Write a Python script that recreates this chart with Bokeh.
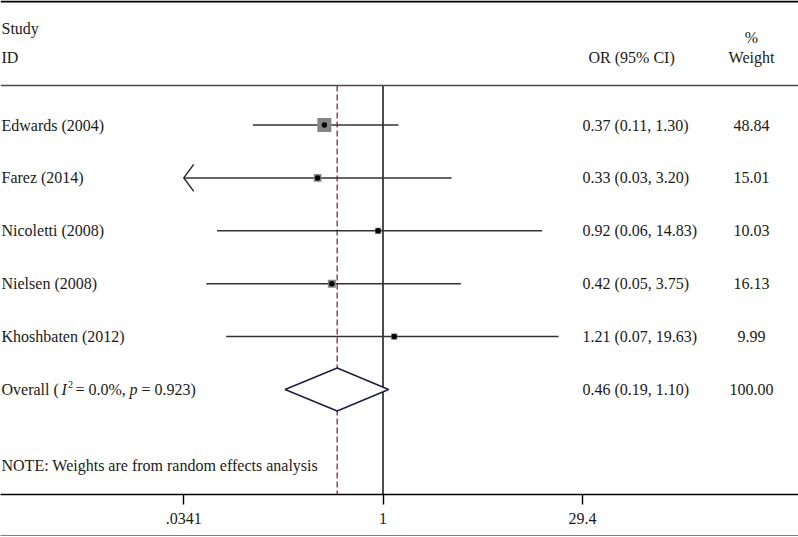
import math
from bokeh.plotting import figure
from bokeh.models import Range1d, LogAxis, FixedTicker, Span
from bokeh.core.properties import value
from bokeh.embed import file_html
from bokeh.resources import INLINE

# ---------------- data ----------------
studies = ["Edwards (2004)", "Farez (2014)", "Nicoletti (2008)", "Nielsen (2008)", "Khoshbaten (2012)"]
or_est = [0.37, 0.33, 0.92, 0.42, 1.21]
ci_low = [0.11, 0.03, 0.06, 0.05, 0.07]
ci_high = [1.30, 3.20, 14.83, 3.75, 19.63]
weights = [48.84, 15.01, 10.03, 16.13, 9.99]
overall_or = 0.46
overall_low = 0.19
overall_high = 1.10
overall_weight = 100.00
i2_text = "0.0%"
p_text = "0.923"
tick_values = [0.0341, 1, 29.4]
tick_labels = [".0341", "1", "29.4"]
null_value = 1
note = "NOTE: Weights are from random effects analysis"

# ---------------- geometry helpers ----------------
X1 = 382.5      # reference pixel of OR = 1
DEC = 135.8     # pixels per decade
ROW0 = 124.5    # reference pixel of first row
ROWH = 52.9     # row spacing in pixels
FW, FH = 798, 494


def xv(ref_x):
    return 10 ** ((ref_x - X1) / DEC)


def yv(ref_y):
    return (ref_y - ROW0) / ROWH


FONT = value("Liberation Serif")
FS = "16px"
INK = "#1a1a1a"

p = figure(frame_width=FW, frame_height=FH, x_axis_type="log",
           x_axis_location=None, y_axis_location=None,
           x_range=Range1d(xv(0), xv(FW)),
           y_range=Range1d(yv(FH), yv(0)),
           toolbar_location=None, output_backend="svg",
           min_border=0, outline_line_color=None,
           background_fill_color="white", border_fill_color="white")
p.xgrid.visible = False
p.ygrid.visible = False

rows = list(range(len(studies)))
overall_row = len(studies)
axis_min = min(tick_values)

# horizontal rules
p.add_layout(Span(location=yv(1), dimension="width", line_color="black", line_width=2))
p.add_layout(Span(location=yv(85), dimension="width", line_color="#4a4a4a", line_width=1.6))

y_top = yv(85)
y_bot = yv(FH)
# null line and overall line
p.segment(x0=[null_value], y0=[y_top], x1=[null_value], y1=[y_bot], line_color="black", line_width=1.4)
p.segment(x0=[overall_or], y0=[y_top], x1=[overall_or], y1=[y_bot], line_color="#8a4b4b",
          line_width=1.5, line_dash="6 3")

# CI lines (clipped at axis minimum)
lo_clip = [max(l, axis_min) for l in ci_low]
p.segment(x0=lo_clip, y0=rows, x1=ci_high, y1=rows, line_color="#333333", line_width=1.5)

# arrow heads for clipped CIs
arm_dx = 10 ** (10 / DEC)
arm_dy = 13.5 / ROWH
xs, ys = [], []
for l, r in zip(ci_low, rows):
    if l < axis_min:
        xs.append([axis_min * arm_dx, axis_min, axis_min * arm_dx])
        ys.append([r - arm_dy, r, r + arm_dy])
if xs:
    p.multi_line(xs=xs, ys=ys, line_color="#222222", line_width=1.4)

# weight squares and point estimates
p.scatter(x=or_est, y=rows, size=[2.0 * math.sqrt(w) for w in weights], marker="square",
          fill_color="#858585", line_color=None)
p.scatter(x=or_est, y=rows, size=5.5, marker="circle", fill_color="black", line_color=None)

# overall diamond
dh = 21.5 / ROWH
p.patch(x=[overall_low, overall_or, overall_high, overall_or],
        y=[overall_row, overall_row - dh, overall_row, overall_row + dh],
        fill_color="white", line_color="#1d1d45", line_width=1.5)

# ---------------- texts ----------------
def txt(x, y, t, align="left", size=FS, style="normal"):
    p.text(x=x, y=y, text=t, text_font=FONT, text_font_size=size, text_font_style=style,
           text_align=align, text_baseline="middle", text_color=INK)

txt([xv(1)] * 2, [yv(28), yv(57)], ["Study", "ID"])
txt([xv(588)], [yv(57)], ["OR (95% CI)"])
txt([xv(751)] * 2, [yv(37), yv(57)], ["%", "Weight"], align="center")

txt([xv(1)] * len(studies), rows, studies)
ci_txt = [f"{o:.2f} ({l:.2f}, {h:.2f})" for o, l, h in zip(or_est, ci_low, ci_high)]
ci_txt.append(f"{overall_or:.2f} ({overall_low:.2f}, {overall_high:.2f})")
txt([xv(582)] * len(ci_txt), rows + [overall_row], ci_txt)
w_txt = [f"{w:.2f}" for w in weights] + [f"{overall_weight:.2f}"]
txt([xv(751)] * len(w_txt), rows + [overall_row], w_txt, align="center")

# overall label, pieced for italics
txt([xv(1)], [overall_row], ["Overall ("])
txt([xv(61)], [overall_row], ["I"], style="italic")
txt([xv(67.5)], [overall_row - 5 / ROWH], ["2"], size="10px")
txt([xv(75)], [overall_row], ["= " + i2_text + ","])
txt([xv(129)], [overall_row], ["p"], style="italic")
txt([xv(141)], [overall_row], ["= " + p_text + ")"])

txt([xv(1)], [yv(465)], [note])

# ---------------- axis ----------------
ax = LogAxis(ticker=FixedTicker(ticks=tick_values, minor_ticks=[]),
             major_label_overrides={v: lab for v, lab in zip(tick_values, tick_labels)},
             axis_line_color="black", axis_line_width=1.5,
             major_tick_line_color="black", major_tick_line_width=1.4,
             major_tick_out=10, major_tick_in=0, minor_tick_out=0, minor_tick_in=0,
             major_label_standoff=8,
             major_label_text_font="Liberation Serif", major_label_text_font_size="16px",
             major_label_text_color=INK,
             axis_label=" ", axis_label_standoff=0, axis_label_text_font_size="7px")
p.add_layout(ax, "below")

ax2 = LogAxis(ticker=FixedTicker(ticks=[], minor_ticks=[]),
              axis_line_color="black", axis_line_width=2,
              major_tick_out=0, major_tick_in=0, minor_tick_out=0, minor_tick_in=0,
              major_label_text_font_size="0px", major_label_standoff=0)
p.add_layout(ax2, "below")

open("out.html", "w").write(file_html(p, INLINE))
